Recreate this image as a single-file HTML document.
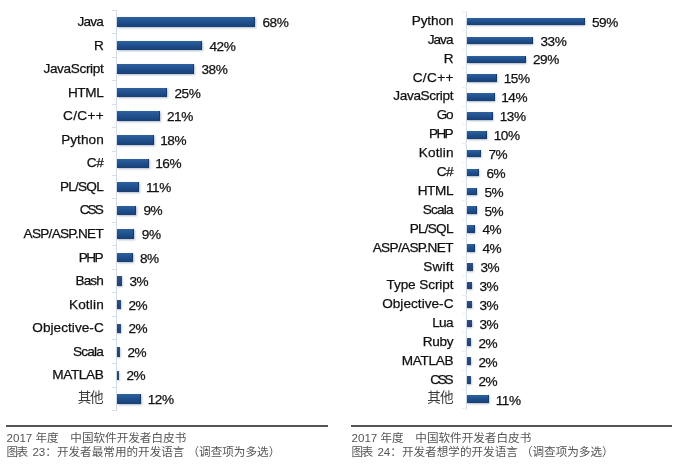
<!DOCTYPE html>
<html><head><meta charset="utf-8"><title>chart</title>
<style>
html,body{margin:0;padding:0;background:#fff;}
body{width:682px;height:468px;position:relative;overflow:hidden;font-family:"Liberation Sans","Noto Sans CJK SC",sans-serif;color:#222;}
.l{position:absolute;text-align:right;font-size:13.6px;line-height:14px;height:14px;white-space:nowrap;color:#111;-webkit-text-stroke:0.25px #111;}
.v{position:absolute;font-size:13.6px;letter-spacing:-0.45px;line-height:14px;height:14px;white-space:nowrap;color:#111;-webkit-text-stroke:0.25px #111;}
.b{position:absolute;box-sizing:border-box;background:linear-gradient(#2f619f,#1f508d 50%,#183f74);border-right:1.5px solid #173a6c;box-shadow:0.5px 1px 2px rgba(110,125,150,.55);}
.ax{position:absolute;width:1px;background:#d3dbe6;}
.tk{position:absolute;height:1px;width:5px;background:#d6dde8;}
.tk.r{background:#eceff4;}
.hr{position:absolute;height:1.6px;background:#555;}
.cap{position:absolute;font-size:11.6px;line-height:14.1px;color:#555;white-space:nowrap;}
.cj{color:#3a3a3a;-webkit-text-stroke:0;}
.b.s{background:linear-gradient(#2c4f84,#223f6e);border-right:0;}
</style></head><body>

<div class="ax" style="left:116px;top:10px;height:400px"></div>
<div class="tk" style="left:112px;top:9.6px"></div>
<div class="tk" style="left:112px;top:33.2px"></div>
<div class="tk" style="left:112px;top:56.7px"></div>
<div class="tk" style="left:112px;top:80.3px"></div>
<div class="tk" style="left:112px;top:103.8px"></div>
<div class="tk" style="left:112px;top:127.4px"></div>
<div class="tk" style="left:112px;top:151.0px"></div>
<div class="tk" style="left:112px;top:174.5px"></div>
<div class="tk" style="left:112px;top:198.1px"></div>
<div class="tk" style="left:112px;top:221.6px"></div>
<div class="tk" style="left:112px;top:245.2px"></div>
<div class="tk" style="left:112px;top:268.8px"></div>
<div class="tk" style="left:112px;top:292.3px"></div>
<div class="tk" style="left:112px;top:315.9px"></div>
<div class="tk" style="left:112px;top:339.4px"></div>
<div class="tk" style="left:112px;top:363.0px"></div>
<div class="tk" style="left:112px;top:386.6px"></div>
<div class="tk" style="left:112px;top:410.1px"></div>
<div class="l" style="left:-37.14px;width:140px;top:15.0px;letter-spacing:-0.84px">Java</div>
<div class="b" style="left:117px;top:17.2px;width:138.0px;height:9.5px"></div>
<div class="v" style="left:262.5px;top:16px">68%</div>
<div class="l" style="left:-36.30px;width:140px;top:39.0px;letter-spacing:0.00px">R</div>
<div class="b" style="left:117px;top:40.8px;width:85.0px;height:9.5px"></div>
<div class="v" style="left:209.5px;top:40px">42%</div>
<div class="l" style="left:-36.66px;width:140px;top:62.0px;letter-spacing:-0.36px">JavaScript</div>
<div class="b" style="left:117px;top:64.3px;width:77.0px;height:9.5px"></div>
<div class="v" style="left:201.5px;top:63px">38%</div>
<div class="l" style="left:-36.71px;width:140px;top:86.0px;letter-spacing:-0.41px">HTML</div>
<div class="b" style="left:117px;top:87.9px;width:50.0px;height:9.5px"></div>
<div class="v" style="left:174.5px;top:87px">25%</div>
<div class="l" style="left:-35.97px;width:140px;top:109.0px;letter-spacing:0.33px">C/C++</div>
<div class="b" style="left:117px;top:111.4px;width:42.5px;height:9.5px"></div>
<div class="v" style="left:167.0px;top:110px">21%</div>
<div class="l" style="left:-36.25px;width:140px;top:133.0px;letter-spacing:0.05px">Python</div>
<div class="b" style="left:117px;top:135.0px;width:36.5px;height:9.5px"></div>
<div class="v" style="left:160.2px;top:134px">18%</div>
<div class="l" style="left:-36.79px;width:140px;top:156.0px;letter-spacing:-0.49px">C#</div>
<div class="b" style="left:117px;top:158.6px;width:31.5px;height:9.5px"></div>
<div class="v" style="left:155.2px;top:157px">16%</div>
<div class="l" style="left:-37.06px;width:140px;top:180.0px;letter-spacing:-0.76px">PL/SQL</div>
<div class="b" style="left:117px;top:182.1px;width:22.3px;height:9.5px"></div>
<div class="v" style="left:146.0px;top:181px">11%</div>
<div class="l" style="left:-38.28px;width:140px;top:203.0px;letter-spacing:-1.98px">CSS</div>
<div class="b" style="left:117px;top:205.7px;width:19.0px;height:9.5px"></div>
<div class="v" style="left:143.5px;top:204px">9%</div>
<div class="l" style="left:-37.03px;width:140px;top:227.0px;letter-spacing:-0.73px">ASP/ASP.NET</div>
<div class="b" style="left:117px;top:229.2px;width:17.3px;height:9.5px"></div>
<div class="v" style="left:141.8px;top:228px">9%</div>
<div class="l" style="left:-37.83px;width:140px;top:251.0px;letter-spacing:-1.53px">PHP</div>
<div class="b" style="left:117px;top:252.8px;width:15.5px;height:9.5px"></div>
<div class="v" style="left:140.0px;top:252px">8%</div>
<div class="l" style="left:-37.26px;width:140px;top:274.0px;letter-spacing:-0.96px">Bash</div>
<div class="b s" style="left:117px;top:276.4px;width:5.0px;height:9.5px"></div>
<div class="v" style="left:129.5px;top:275px">3%</div>
<div class="l" style="left:-36.14px;width:140px;top:298.0px;letter-spacing:0.16px">Kotlin</div>
<div class="b s" style="left:117px;top:299.9px;width:4.0px;height:9.5px"></div>
<div class="v" style="left:128.5px;top:299px">2%</div>
<div class="l" style="left:-36.26px;width:140px;top:321.0px;letter-spacing:0.04px">Objective-C</div>
<div class="b s" style="left:117px;top:323.5px;width:4.0px;height:9.5px"></div>
<div class="v" style="left:128.5px;top:322px">2%</div>
<div class="l" style="left:-37.10px;width:140px;top:345.0px;letter-spacing:-0.80px">Scala</div>
<div class="b s" style="left:117px;top:347.0px;width:3.0px;height:9.5px"></div>
<div class="v" style="left:127.5px;top:346px">2%</div>
<div class="l" style="left:-36.70px;width:140px;top:368.0px;letter-spacing:-0.40px">MATLAB</div>
<div class="b s" style="left:117px;top:370.6px;width:2.0px;height:9.5px"></div>
<div class="v" style="left:126.5px;top:369px">2%</div>
<div class="l cj" style="left:-37.49px;width:140px;top:391.0px;letter-spacing:-1.19px">其他</div>
<div class="b" style="left:117px;top:394.2px;width:24.0px;height:9.5px"></div>
<div class="v" style="left:147.7px;top:393px">12%</div>
<div class="ax" style="left:466px;top:11px;height:399px"></div>
<div class="tk r" style="left:462px;top:11.0px"></div>
<div class="tk r" style="left:462px;top:29.9px"></div>
<div class="tk r" style="left:462px;top:48.8px"></div>
<div class="tk r" style="left:462px;top:67.7px"></div>
<div class="tk r" style="left:462px;top:86.6px"></div>
<div class="tk r" style="left:462px;top:105.5px"></div>
<div class="tk r" style="left:462px;top:124.4px"></div>
<div class="tk r" style="left:462px;top:143.3px"></div>
<div class="tk r" style="left:462px;top:162.2px"></div>
<div class="tk r" style="left:462px;top:181.1px"></div>
<div class="tk r" style="left:462px;top:200.0px"></div>
<div class="tk r" style="left:462px;top:218.9px"></div>
<div class="tk r" style="left:462px;top:237.8px"></div>
<div class="tk r" style="left:462px;top:256.7px"></div>
<div class="tk r" style="left:462px;top:275.6px"></div>
<div class="tk r" style="left:462px;top:294.5px"></div>
<div class="tk r" style="left:462px;top:313.4px"></div>
<div class="tk r" style="left:462px;top:332.3px"></div>
<div class="tk r" style="left:462px;top:351.2px"></div>
<div class="tk r" style="left:462px;top:370.1px"></div>
<div class="tk r" style="left:462px;top:389.0px"></div>
<div class="tk r" style="left:462px;top:407.9px"></div>
<div class="l" style="left:313.39px;width:140px;top:14.0px;letter-spacing:-0.11px">Python</div>
<div class="b" style="left:467px;top:17.8px;width:117.5px;height:7.5px"></div>
<div class="v" style="left:592.0px;top:16px">59%</div>
<div class="l" style="left:312.53px;width:140px;top:33.0px;letter-spacing:-0.97px">Java</div>
<div class="b" style="left:467px;top:36.7px;width:66.0px;height:7.5px"></div>
<div class="v" style="left:540.5px;top:35px">33%</div>
<div class="l" style="left:313.50px;width:140px;top:52.0px;letter-spacing:0.00px">R</div>
<div class="b" style="left:467px;top:55.5px;width:58.5px;height:7.5px"></div>
<div class="v" style="left:533.0px;top:53px">29%</div>
<div class="l" style="left:313.88px;width:140px;top:71.0px;letter-spacing:0.38px">C/C++</div>
<div class="b" style="left:467px;top:74.4px;width:30.0px;height:7.5px"></div>
<div class="v" style="left:503.7px;top:72px">15%</div>
<div class="l" style="left:313.13px;width:140px;top:89.0px;letter-spacing:-0.37px">JavaScript</div>
<div class="b" style="left:467px;top:93.2px;width:27.5px;height:7.5px"></div>
<div class="v" style="left:501.2px;top:91px">14%</div>
<div class="l" style="left:312.16px;width:140px;top:108.0px;letter-spacing:-1.34px">Go</div>
<div class="b" style="left:467px;top:112.1px;width:26.0px;height:7.5px"></div>
<div class="v" style="left:499.7px;top:110px">13%</div>
<div class="l" style="left:311.72px;width:140px;top:127.0px;letter-spacing:-1.78px">PHP</div>
<div class="b" style="left:467px;top:131.0px;width:20.0px;height:7.5px"></div>
<div class="v" style="left:493.7px;top:129px">10%</div>
<div class="l" style="left:313.66px;width:140px;top:146.0px;letter-spacing:0.16px">Kotlin</div>
<div class="b" style="left:467px;top:149.8px;width:14.0px;height:7.5px"></div>
<div class="v" style="left:488.5px;top:148px">7%</div>
<div class="l" style="left:312.91px;width:140px;top:165.0px;letter-spacing:-0.59px">C#</div>
<div class="b" style="left:467px;top:168.7px;width:12.0px;height:7.5px"></div>
<div class="v" style="left:486.5px;top:167px">6%</div>
<div class="l" style="left:313.09px;width:140px;top:184.0px;letter-spacing:-0.41px">HTML</div>
<div class="b" style="left:467px;top:187.5px;width:10.0px;height:7.5px"></div>
<div class="v" style="left:484.5px;top:186px">5%</div>
<div class="l" style="left:312.70px;width:140px;top:203.0px;letter-spacing:-0.80px">Scala</div>
<div class="b" style="left:467px;top:206.4px;width:10.0px;height:7.5px"></div>
<div class="v" style="left:484.5px;top:205px">5%</div>
<div class="l" style="left:312.74px;width:140px;top:222.0px;letter-spacing:-0.76px">PL/SQL</div>
<div class="b" style="left:467px;top:225.3px;width:8.0px;height:7.5px"></div>
<div class="v" style="left:482.5px;top:223px">4%</div>
<div class="l" style="left:312.84px;width:140px;top:241.0px;letter-spacing:-0.66px">ASP/ASP.NET</div>
<div class="b" style="left:467px;top:244.1px;width:8.0px;height:7.5px"></div>
<div class="v" style="left:482.5px;top:242px">4%</div>
<div class="l" style="left:313.68px;width:140px;top:260.0px;letter-spacing:0.18px">Swift</div>
<div class="b s" style="left:467px;top:263.0px;width:6.0px;height:7.5px"></div>
<div class="v" style="left:480.5px;top:261px">3%</div>
<div class="l" style="left:313.40px;width:140px;top:278.0px;letter-spacing:-0.10px">Type Script</div>
<div class="b s" style="left:467px;top:281.8px;width:5.0px;height:7.5px"></div>
<div class="v" style="left:479.5px;top:280px">3%</div>
<div class="l" style="left:313.53px;width:140px;top:297.0px;letter-spacing:0.03px">Objective-C</div>
<div class="b s" style="left:467px;top:300.7px;width:5.0px;height:7.5px"></div>
<div class="v" style="left:479.5px;top:299px">3%</div>
<div class="l" style="left:312.81px;width:140px;top:316.0px;letter-spacing:-0.69px">Lua</div>
<div class="b s" style="left:467px;top:319.6px;width:5.0px;height:7.5px"></div>
<div class="v" style="left:479.5px;top:318px">3%</div>
<div class="l" style="left:313.19px;width:140px;top:335.0px;letter-spacing:-0.31px">Ruby</div>
<div class="b s" style="left:467px;top:338.4px;width:4.0px;height:7.5px"></div>
<div class="v" style="left:478.5px;top:337px">2%</div>
<div class="l" style="left:313.18px;width:140px;top:354.0px;letter-spacing:-0.32px">MATLAB</div>
<div class="b s" style="left:467px;top:357.3px;width:4.0px;height:7.5px"></div>
<div class="v" style="left:478.5px;top:356px">2%</div>
<div class="l" style="left:311.12px;width:140px;top:373.0px;letter-spacing:-2.38px">CSS</div>
<div class="b s" style="left:467px;top:376.1px;width:4.0px;height:7.5px"></div>
<div class="v" style="left:478.5px;top:375px">2%</div>
<div class="l cj" style="left:312.51px;width:140px;top:391.0px;letter-spacing:-0.99px">其他</div>
<div class="b" style="left:467px;top:395.0px;width:22.0px;height:7.5px"></div>
<div class="v" style="left:495.7px;top:394px">11%</div>
<div class="hr" style="left:6px;top:425px;width:322px"></div>
<div class="hr" style="left:351px;top:425px;width:321px"></div>
<div class="cap" style="left:6.5px;top:431.0px">2017 年度　中国软件开发者白皮书<br><span style="letter-spacing:-1.5px">图表</span><span style="margin-left:2.5px"> 23</span>：开发者最常用的开发语言<span style="margin-left:3px">（</span>调查项为多选）</div>
<div class="cap" style="left:351.5px;top:431.0px">2017 年度　中国软件开发者白皮书<br><span style="letter-spacing:-1.5px">图表</span><span style="margin-left:2.5px"> 24</span>：开发者想学的开发语言<span style="margin-left:3px">（</span>调查项为多选）</div>
</body></html>
